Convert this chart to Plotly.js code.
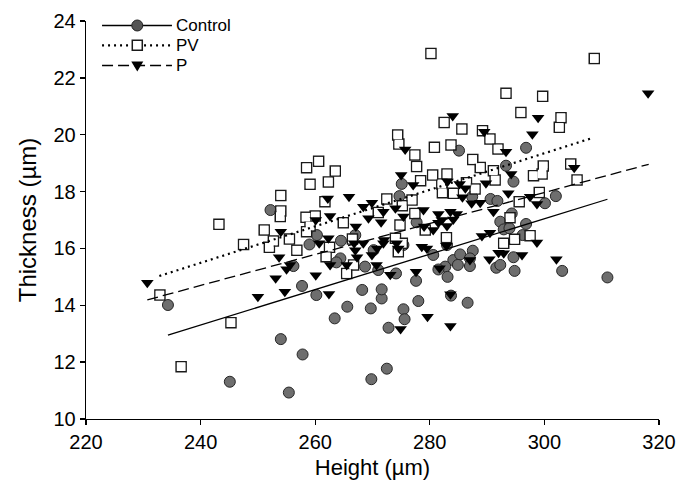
<!DOCTYPE html>
<html>
<head>
<meta charset="utf-8">
<script src="https://cdn.plot.ly/plotly-3.0.1.min.js"></script>
<style>html,body{margin:0;padding:0;background:#fff}#chart{width:679px;height:488px}</style>
</head>
<body>
<div id="chart"></div>
<script>
// Control (circles)
const controlX = [252.2,234.3,260.3,259.0,264.5,264.4,263.7,256.2,268.7,270.2,257.7,260.2,268.2,265.6,269.7,263.4,254.0,257.8,245.1,255.4,269.8,271.6,271.0,267.0,
  285.1,296.8,293.3,294.6,275.1,274.7,287.4,290.6,291.8,300.1,302.0,294.3,292.3,292.9,293.9,296.8,296.2,277.7,275.4,280.6,283.0,284.1,285.3,287.5,287.0,282.7,284.9,287.0,283.1,281.5,291.6,292.3,294.6,294.8,303.1,311.0,274.1,277.6,271.6,275.4,275.6,278.0,283.7,286.6,272.8,272.5];
const controlY = [17.35,14.01,16.47,16.14,16.27,15.65,15.51,15.38,15.36,15.94,14.68,14.36,14.54,13.95,13.89,13.54,12.81,12.27,11.31,10.93,11.40,14.24,15.24,16.47,
  19.44,19.54,18.91,18.35,18.27,17.84,17.82,17.74,17.67,17.59,17.84,17.23,16.94,16.67,16.71,16.86,16.47,16.92,16.12,15.77,16.12,15.59,15.79,15.92,15.65,15.36,15.42,15.38,15.00,15.26,15.32,15.42,15.69,15.21,15.21,14.98,15.12,14.86,14.56,13.86,13.51,14.15,14.34,14.09,13.21,11.77];

// PV (open squares)
const pvX = [260.6,258.5,263.5,259.1,262.3,254.0,261.7,254.0,253.9,243.2,258.4,260.0,264.9,251.1,252.7,255.5,258.5,259.1,247.5,252.0,256.8,262.5,261.9,266.5,266.7,265.5,232.9,245.3,236.6,
  280.2,308.7,293.3,299.7,295.9,302.9,302.6,282.5,285.6,289.2,290.5,274.4,274.6,280.8,283.7,291.9,277.4,277.7,287.5,288.8,291.1,304.6,305.7,299.8,298.1,299.6,291.4,280.5,283.0,278.4,282.1,286.4,287.9,282.2,284.1,272.5,276.9,275.2,277.4,271.0,274.8,279.2,282.9,274.0,275.2,274.5,295.6,299.1,294.0,294.8,297.5,292.9];
const pvY = [19.07,18.84,18.72,18.26,18.34,17.86,17.64,17.32,17.12,16.85,17.10,17.14,16.90,16.65,16.26,16.33,16.59,16.79,16.14,16.04,15.94,16.04,15.71,16.33,15.42,15.12,14.36,13.39,11.84,
  22.86,22.68,21.46,21.35,20.78,20.60,20.26,20.43,20.20,20.14,19.85,19.99,19.67,19.56,19.64,19.50,19.29,18.88,19.13,18.85,18.73,18.97,18.41,18.90,18.56,18.62,18.41,18.58,18.62,18.38,18.27,18.31,18.09,17.96,17.94,17.74,17.70,17.50,17.23,17.26,16.82,16.65,16.38,16.36,16.18,15.88,17.64,17.97,17.08,16.32,16.45,16.18];

// P (filled down-triangles)
const pX = [230.7,250.0,253.1,254.7,260.1,262.4,253.7,255.0,255.6,254.0,260.1,262.6,262.2,265.9,268.4,269.9,269.3,267.1,260.7,262.3,266.8,268.4,267.0,267.3,262.6,265.5,270.7,269.9,
  318.1,284.0,298.9,297.9,289.5,275.7,293.3,294.2,305.2,275.0,277.1,283.1,285.2,286.2,289.8,293.7,285.7,297.5,298.7,287.3,288.8,291.1,274.0,271.9,275.4,278.9,271.5,281.5,283.6,284.7,282.1,284.1,281.5,283.0,279.0,280.6,274.2,271.9,270.8,274.5,278.6,279.5,282.9,273.1,277.6,281.7,287.0,289.1,290.5,292.0,292.9,290.4,296.1,298.7,302.1,283.6,279.6,283.6,274.9,272.0];
const pY = [14.79,14.30,14.95,14.48,15.06,14.40,15.69,15.27,15.42,16.59,17.00,17.14,17.76,17.82,17.47,17.61,17.06,16.77,16.18,16.36,16.18,16.18,15.94,15.69,15.42,15.42,15.42,15.77,
  21.46,20.66,20.60,20.02,20.10,19.48,19.40,18.62,18.84,18.58,18.23,18.35,18.27,18.12,18.29,17.94,17.80,17.82,17.56,17.59,17.61,17.29,17.41,17.29,17.12,17.35,16.92,17.21,17.29,17.21,17.00,17.02,16.90,16.79,16.77,16.65,16.18,16.18,16.00,16.00,16.06,16.00,16.09,15.07,15.18,15.30,15.59,16.44,16.55,15.85,15.83,15.62,15.77,16.21,15.62,14.39,13.60,13.27,13.17,16.30];

// Fitted regression lines (end points)
const controlFitX = [234.3, 311.0];
const controlFitY = [12.95, 17.73];
const pvFitX = [232.8, 308.6];
const pvFitY = [15.03, 19.90];
const pFitX = [230.7, 318.2];
const pFitY = [14.19, 18.96];

const seriesNames = ['Control', 'PV', 'P'];
const xTicks = [220, 240, 260, 280, 300, 320];
const yTicks = [10, 12, 14, 16, 18, 20, 22, 24];

const FONT = 'Liberation Sans, Arial, Helvetica, sans-serif';

const traces = [
  {x: controlX, y: controlY, mode: 'markers', type: 'scatter', name: seriesNames[0],
   marker: {symbol: 'circle', size: 11, color: '#6e6e6e', line: {color: '#262626', width: 1}}},
  {x: pvX, y: pvY, mode: 'markers', type: 'scatter', name: seriesNames[1],
   marker: {symbol: 'square-open', size: 10, color: '#1a1a1a', line: {color: '#1a1a1a', width: 1.5}}},
  {x: pvX, y: pvY, mode: 'markers', type: 'scatter', name: seriesNames[1] + ' fill', hoverinfo: 'skip',
   marker: {symbol: 'square', size: 8.5, color: '#ffffff', line: {width: 0}}},
  {x: pX, y: pY, mode: 'markers', type: 'scatter', name: seriesNames[2],
   marker: {symbol: 'triangle-down', size: 11, color: '#000000', line: {width: 0}}},
  {x: controlFitX, y: controlFitY, mode: 'lines', type: 'scatter', name: seriesNames[0] + ' fit',
   line: {color: '#000', width: 1.3, dash: 'solid'}},
  {x: pvFitX, y: pvFitY, mode: 'lines', type: 'scatter', name: seriesNames[1] + ' fit',
   line: {color: '#000', width: 2.2, dash: '2px,4px'}},
  {x: pFitX, y: pFitY, mode: 'lines', type: 'scatter', name: seriesNames[2] + ' fit',
   line: {color: '#000', width: 1.3, dash: '11px,5px'}}
];

// Legend drawn at the top-left of the plot area
const legRows = [0.9887, 0.9389, 0.8882];
const legX0 = 0.028, legX1 = 0.150, legM = 0.0895, legT = 0.156;
const shapes = [];
const annotations = [];
const dashes = ['solid', '2px,4px', '11px,5px'];
const widths = [1.3, 2.2, 1.3];
legRows.forEach((ry, i) => {
  shapes.push({type: 'line', xref: 'paper', yref: 'paper', x0: legX0, x1: legX1, y0: ry, y1: ry,
               line: {color: '#000', width: widths[i], dash: dashes[i]}});
  annotations.push({xref: 'paper', yref: 'paper', x: legT, y: ry, xanchor: 'left', yanchor: 'middle',
                    text: seriesNames[i], showarrow: false, borderpad: 0,
                    font: {family: FONT, size: 17, color: '#000'}});
});
// glyphs
shapes.push({type: 'circle', xref: 'paper', yref: 'paper', xsizemode: 'pixel', ysizemode: 'pixel',
             xanchor: legM, yanchor: legRows[0], x0: -5.5, x1: 5.5, y0: -5.5, y1: 5.5,
             fillcolor: '#555', line: {color: '#222', width: 1}});
shapes.push({type: 'rect', xref: 'paper', yref: 'paper', xsizemode: 'pixel', ysizemode: 'pixel',
             xanchor: legM, yanchor: legRows[1], x0: -5, x1: 5, y0: -5, y1: 5,
             fillcolor: '#fff', line: {color: '#1a1a1a', width: 1.5}});
shapes.push({type: 'path', xref: 'paper', yref: 'paper', xsizemode: 'pixel', ysizemode: 'pixel',
             xanchor: legM, yanchor: legRows[2], path: 'M-6,4L6,4L0,-6Z',
             fillcolor: '#000', line: {color: '#000', width: 0}});

const axisCommon = {
  showgrid: false, zeroline: false, showline: true, linecolor: '#000', linewidth: 1.3,
  ticks: 'outside', ticklen: 5, tickwidth: 1.3, tickcolor: '#000',
  tickfont: {family: FONT, size: 20, color: '#000'}, mirror: false, fixedrange: true
};

const layout = {
  width: 679, height: 488,
  margin: {l: 86, r: 20, t: 21, b: 69, pad: 0},
  paper_bgcolor: '#fff', plot_bgcolor: '#fff',
  showlegend: false,
  font: {family: FONT, color: '#000'},
  xaxis: Object.assign({}, axisCommon, {range: [220, 320], tickvals: xTicks, ticktext: xTicks.map(String),
    title: {text: 'Height (µm)', font: {family: FONT, size: 22, color: '#000'}, standoff: 7}}),
  yaxis: Object.assign({}, axisCommon, {range: [10, 24], tickvals: yTicks, ticktext: yTicks.map(String),
    title: {text: 'Thickness (µm)', font: {family: FONT, size: 24, color: '#000'}, standoff: 10}}),
  shapes: shapes,
  annotations: annotations
};

Plotly.newPlot('chart', traces, layout, {displayModeBar: false, staticPlot: true});
</script>
</body>
</html>
